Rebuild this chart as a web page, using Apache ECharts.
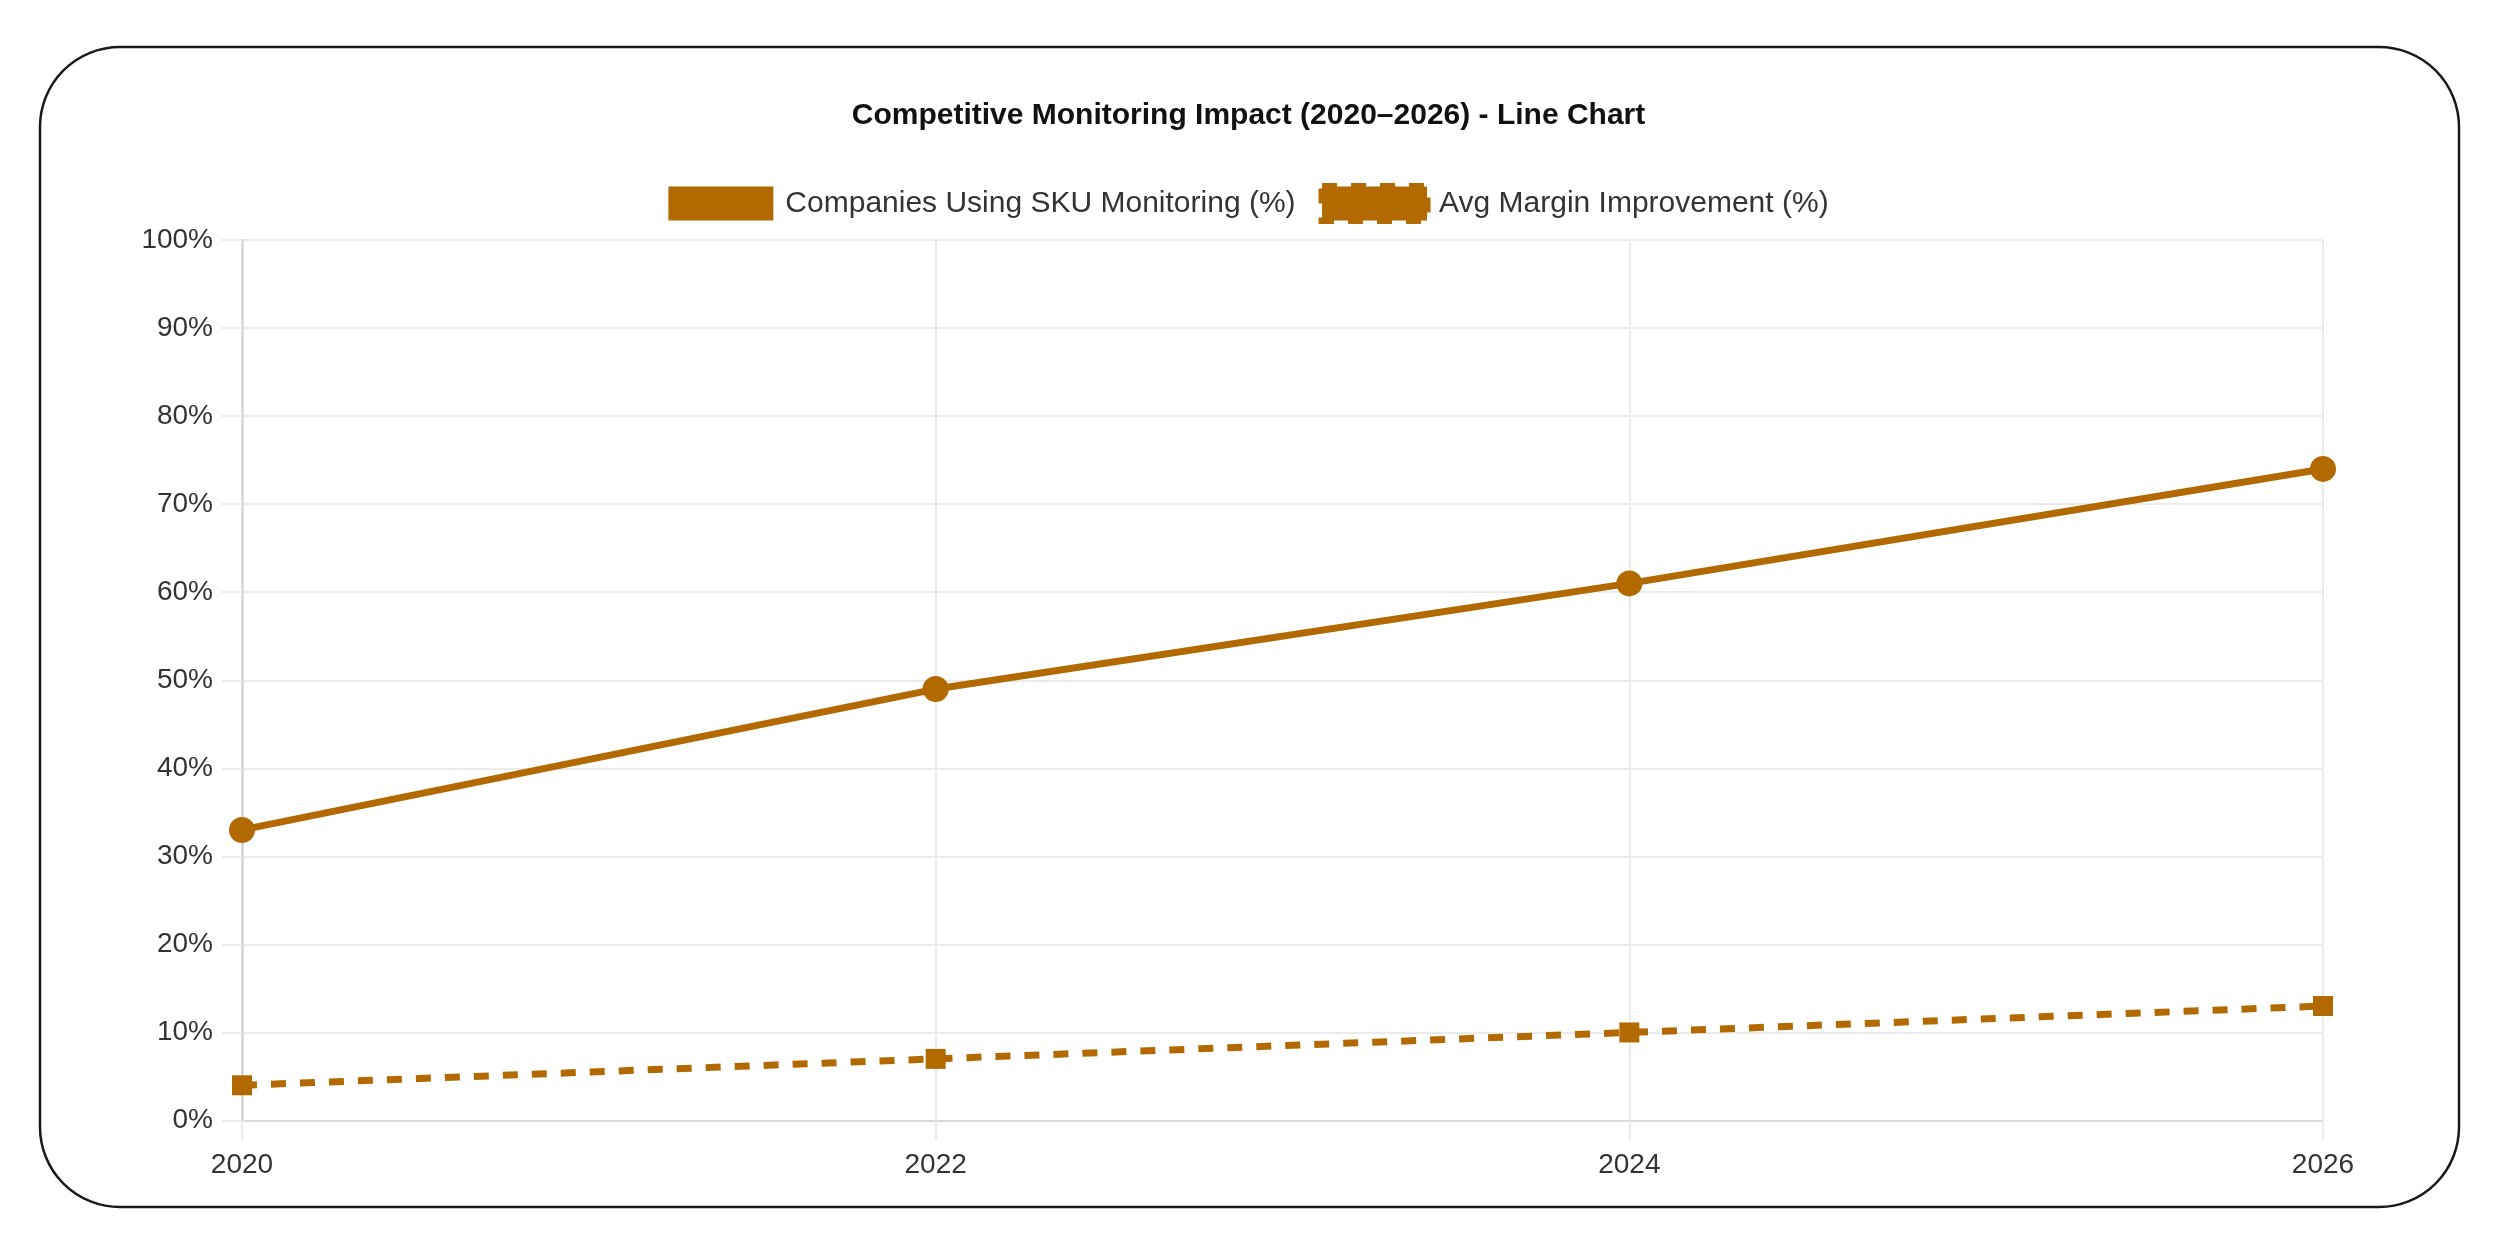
<!DOCTYPE html>
<html>
<head>
<meta charset="utf-8">
<script src="https://cdn.jsdelivr.net/npm/echarts@6/dist/echarts.min.js"></script>
<style>
  html, body { margin: 0; padding: 0; background: #ffffff; }
  #chart { width: 2497px; height: 1240px; }
</style>
</head>
<body>
<div id="chart"></div>
<script>
const titleText = 'Competitive Monitoring Impact (2020–2026) - Line Chart';
const years = ['2020', '2022', '2024', '2026'];
const seriesNames = ['Companies Using SKU Monitoring (%)', 'Avg Margin Improvement (%)'];
const skuMonitoring = [33, 49, 61, 74];
const marginImprovement = [4, 7, 10, 13];

const COLOR = '#b26a00';
const FONT = '"Liberation Sans", Arial, sans-serif';
const GRID = '#ebebeb';

const chart = echarts.init(document.getElementById('chart'), null, { renderer: 'canvas' });

chart.setOption({
  animation: false,
  backgroundColor: '#ffffff',
  graphic: [{
    type: 'rect',
    shape: { x: 40, y: 47, width: 2419, height: 1160, r: 80 },
    style: { fill: 'none', stroke: '#1a1a1a', lineWidth: 2.5 },
    silent: true,
    z: -1
  }],
  title: {
    text: titleText,
    left: 'center',
    top: 101,
    padding: 0,
    textStyle: { fontFamily: FONT, fontSize: 30, fontWeight: 'bold', color: '#111' }
  },
  legend: {
    top: 183,
    left: 'center',
    padding: 0,
    itemWidth: 105,
    itemHeight: 34,
    itemGap: 23,
    textStyle: { fontFamily: FONT, fontSize: 30, color: '#333', padding: [0, 0, 0, 7] },
    data: [
      { name: seriesNames[0], icon: 'rect', itemStyle: { color: COLOR, borderWidth: 0 } },
      { name: seriesNames[1], icon: 'rect', itemStyle: { color: COLOR, borderColor: COLOR, borderWidth: 7, borderType: [15, 14] } }
    ]
  },
  grid: { left: 242, right: 174, top: 240, bottom: 119.5, containLabel: false },
  xAxis: {
    type: 'category',
    data: years,
    boundaryGap: false,
    axisLine: { show: true, lineStyle: { color: '#d9d9d9', width: 2 } },
    axisTick: { show: true, length: 20, lineStyle: { color: GRID, width: 2 } },
    axisLabel: { fontFamily: FONT, fontSize: 28, color: '#333', margin: 31 },
    splitLine: { show: true, lineStyle: { color: GRID, width: 2 } }
  },
  yAxis: {
    type: 'value',
    min: 0,
    max: 100,
    interval: 10,
    axisLine: { show: true, lineStyle: { color: '#d4d4d4', width: 2.5 } },
    axisTick: { show: true, length: 20, lineStyle: { color: GRID, width: 2 } },
    axisLabel: { fontFamily: FONT, fontSize: 28, color: '#333', margin: 29, formatter: '{value}%' },
    splitLine: { show: true, lineStyle: { color: GRID, width: 2 } }
  },
  series: [
    {
      name: seriesNames[0],
      type: 'line',
      data: skuMonitoring,
      symbol: 'circle',
      symbolSize: 26,
      itemStyle: { color: COLOR },
      lineStyle: { color: COLOR, width: 7 }
    },
    {
      name: seriesNames[1],
      type: 'line',
      data: marginImprovement,
      symbol: 'rect',
      symbolSize: 20,
      itemStyle: { color: COLOR },
      lineStyle: { color: COLOR, width: 7, type: [15, 14] }
    }
  ]
});
</script>
</body>
</html>
